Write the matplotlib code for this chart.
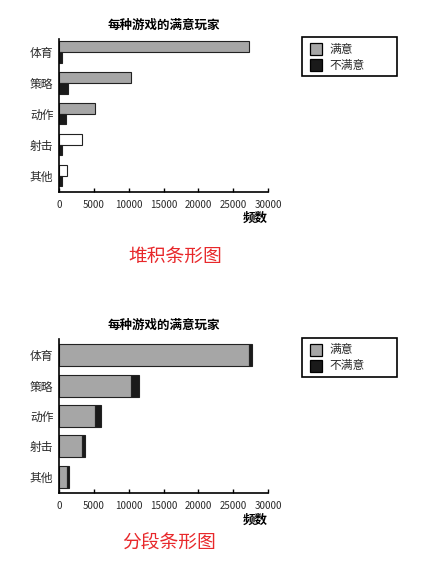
import matplotlib.pyplot as plt
from matplotlib.patches import Rectangle
import numpy as np

plt.rcParams['font.family'] = ['Noto Sans CJK SC', 'DejaVu Sans']

games = ["体育", "策略", "动作", "射击", "其他"]
satisfied = [27300, 10300, 5100, 3250, 1100]
unsatisfied = [450, 1250, 950, 450, 400]
# the scan shows the last two satisfied bars of the top chart as unfilled
top_sat_colors = ["#a6a6a6", "#a6a6a6", "#a6a6a6", "white", "white"]
xticks = [0, 5000, 10000, 15000, 20000, 25000, 30000]
legend_labels = ["满意", "不满意"]

W, H = 421, 575
fig = plt.figure(figsize=(W / 100, H / 100), dpi=100)

GRAY = "#a6a6a6"
DARK = "#1a1a1a"
TXT = "#2a2a2a"


def style_axes(ax):
    ax.spines["top"].set_visible(False)
    ax.spines["right"].set_visible(False)
    ax.spines["left"].set_linewidth(1.2)
    ax.spines["bottom"].set_linewidth(1.2)
    ax.set_xlim(0, 30000)
    ax.set_xticks(xticks)
    ax.set_xticklabels([str(t) for t in xticks], fontsize=7, color=TXT)
    ax.tick_params(axis="x", direction="in", length=3, width=1, pad=6)
    ax.tick_params(axis="y", length=0, pad=4)
    ax.set_yticks(range(len(games)))
    ax.set_yticklabels(games, fontsize=8.5, color=TXT)
    ax.set_title("每种游戏的满意玩家", fontsize=9, fontweight="bold", pad=7)


def px_rect(x, y, w, h, **kw):
    # rectangle given in pixel coords from top-left of the figure
    fig.patches.append(Rectangle((x / W, 1 - (y + h) / H), w / W, h / H,
                                 transform=fig.transFigure, figure=fig, **kw))


def add_legend(y_top):
    px_rect(302, y_top, 95, 39, facecolor="white", edgecolor="black",
            linewidth=1.2)
    for i, (lab, col) in enumerate(zip(legend_labels, [GRAY, DARK])):
        yc = y_top + 12 + i * 16
        px_rect(310, yc - 6, 12, 12, facecolor=col, edgecolor="black",
                linewidth=0.9)
        fig.text(329 / W, 1 - yc / H, lab, fontsize=8.5, color=TXT,
                 ha="left", va="center")


y = np.arange(len(games))

# grouped chart
ax1 = fig.add_axes([59 / W, 1 - 192 / H, 209 / W, 153 / H])
h = 0.34
ax1.barh(y - h / 2, satisfied, height=h, color=top_sat_colors,
         edgecolor="#222222", linewidth=0.8)
ax1.barh(y + h / 2, unsatisfied, height=h, color=DARK,
         edgecolor="#222222", linewidth=0.8)
ax1.set_ylim(4.52, -0.42)
style_axes(ax1)
fig.text(255 / W, 1 - 218 / H, "频数", fontsize=9, fontweight="bold",
         ha="center", va="center")
fig.text(175 / W, 1 - 256 / H, "堆积条形图", fontsize=13.5, color="#e8282b",
         ha="center", va="center")
add_legend(37)

# stacked chart
ax2 = fig.add_axes([59 / W, 1 - 493 / H, 209 / W, 154 / H])
ax2.barh(y, satisfied, height=0.72, color=GRAY,
         edgecolor="#222222", linewidth=0.8)
ax2.barh(y, unsatisfied, left=satisfied, height=0.72, color=DARK,
         edgecolor="#222222", linewidth=0.8)
ax2.set_ylim(4.53, -0.53)
style_axes(ax2)
fig.text(255 / W, 1 - 520 / H, "频数", fontsize=9, fontweight="bold",
         ha="center", va="center")
fig.text(169 / W, 1 - 543 / H, "分段条形图", fontsize=13.5, color="#e8282b",
         ha="center", va="center")
add_legend(338)

fig.savefig("out.png", dpi=100)
